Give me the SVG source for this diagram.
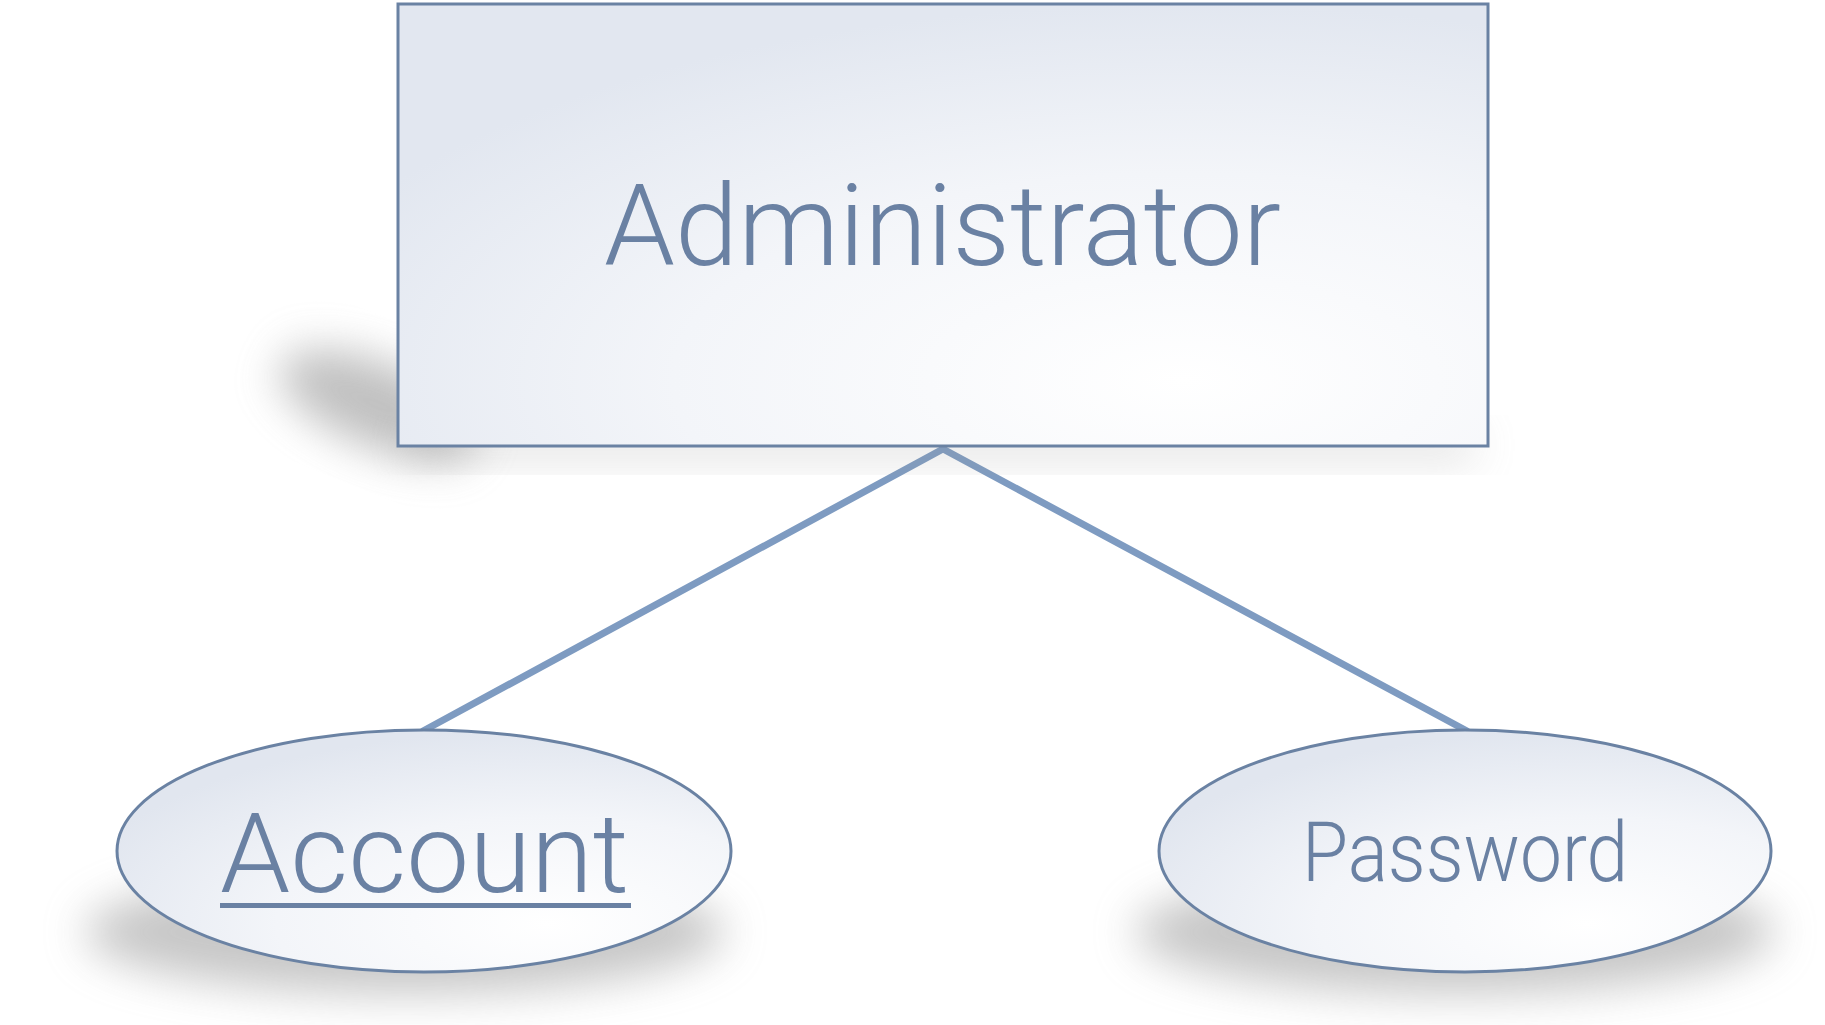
<svg xmlns="http://www.w3.org/2000/svg" width="1825" height="1025" viewBox="0 0 1825 1025">
  <defs>
    <radialGradient id="gRect" cx="0.72" cy="0.85" r="0.85" fx="0.72" fy="0.85">
      <stop offset="0" stop-color="#ffffff"/>
      <stop offset="0.55" stop-color="#f3f5f9"/>
      <stop offset="1" stop-color="#e2e7f0"/>
    </radialGradient>
    <radialGradient id="gEll" cx="0.7" cy="0.8" r="0.8" fx="0.7" fy="0.8">
      <stop offset="0" stop-color="#ffffff"/>
      <stop offset="0.55" stop-color="#f3f5f9"/>
      <stop offset="1" stop-color="#e1e6ef"/>
    </radialGradient>
    <filter id="blur" x="-50%" y="-50%" width="200%" height="200%">
      <feGaussianBlur stdDeviation="22"/>
    </filter>
    <filter id="blurBig" x="-50%" y="-50%" width="200%" height="200%">
      <feGaussianBlur stdDeviation="22"/>
    </filter>
  </defs>
  <style>
    .shape { stroke: #6a82a3; stroke-width: 3; }
    .label { font-family: Roboto, "Noto Sans", "DejaVu Sans", sans-serif; font-weight: 300; fill: #6a81a3; }
    .conn { stroke: #7e9bc1; stroke-width: 7; fill: none; stroke-linecap: round; }
    .shadow { fill: #9a9a9a; }
  </style>
  <rect width="1825" height="1025" fill="#ffffff"/>

  <g id="connectors">
    <line class="conn" x1="943" y1="449" x2="423" y2="731"/>
    <line class="conn" x1="943" y1="449" x2="1467" y2="731"/>
  </g>

  <g id="administrator">
    <ellipse class="shadow" cx="378" cy="405" rx="105" ry="42" transform="rotate(22 378 405)" filter="url(#blur)" opacity="0.62"/>
    <rect class="shadow" x="410" y="430" width="1065" height="30" filter="url(#blur)" opacity="0.3"/>
    <rect class="shape" x="398" y="4" width="1090" height="442" fill="url(#gRect)"/>
    <text class="label" x="604" y="265" font-size="114" textLength="677" lengthAdjust="spacingAndGlyphs">Administrator</text>
  </g>

  <g id="account">
    <ellipse class="shadow" cx="405" cy="932" rx="320" ry="62" filter="url(#blurBig)" opacity="0.55"/>
    <ellipse class="shape" cx="424" cy="851" rx="307" ry="121" fill="url(#gEll)"/>
    <text class="label" x="220" y="892" font-size="112" textLength="409" lengthAdjust="spacingAndGlyphs">Account</text>
    <rect x="220" y="903" width="411" height="5" fill="#6a81a3"/>
  </g>

  <g id="password">
    <ellipse class="shadow" cx="1455" cy="932" rx="320" ry="62" filter="url(#blurBig)" opacity="0.55"/>
    <ellipse class="shape" cx="1465" cy="851" rx="306" ry="121" fill="url(#gEll)"/>
    <text class="label" x="1302" y="881" font-size="84" textLength="326" lengthAdjust="spacingAndGlyphs">Password</text>
  </g>
</svg>
